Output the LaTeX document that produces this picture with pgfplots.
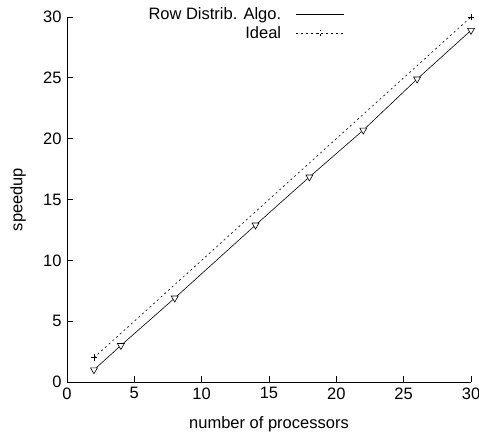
\documentclass[border=0pt]{standalone}
\usepackage{pgfplots}
\pgfplotsset{compat=1.18}
\usepackage{fontspec}
\setmainfont{Liberation Sans}
\begin{document}
\begin{tikzpicture}
\useasboundingbox (-67pt,-53pt) rectangle (412pt,382pt);
\begin{axis}[
  at={(0pt,0pt)}, anchor=origin,
  scale only axis, width=404pt, height=365pt,
  xmin=0, xmax=30, ymin=0, ymax=30,
  xtick={0,5,...,30}, ytick={0,5,...,30},
  axis lines*=left,
  tick align=inside,
  major tick length=6pt,
  axis line style={line width=0.8pt},
  tick style={line width=0.8pt, black},
  /pgf/number format/assume math mode=true,
  tick label style={font=\fontsize{16.5}{19}\selectfont},
  label style={font=\fontsize{16.5}{19}\selectfont},
  xticklabel style={yshift=-2pt},
  yticklabel style={xshift=-2pt},
  xlabel={number of processors},
  ylabel={speedup},
  xlabel style={at={(axis description cs:0.5,-0.115)}, anchor=center},
  ylabel style={at={(axis description cs:-0.121,0.5)}, anchor=center},
  legend style={draw=none, fill=none, at={(rel axis cs:0.688,1.03)}, anchor=north east,
    font=\fontsize{16.5}{19}\selectfont, row sep=3.5pt, inner sep=0pt,
    nodes={inner sep=1pt}},
  legend cell align=right,
  legend plot pos=right,
]
\addplot[black, line width=0.6pt, mark=triangle*, mark options={solid, fill=white, rotate=180, scale=2},
  legend image code/.code={\path (0pt,-4pt) (62pt,4pt); \draw[black, line width=0.6pt] (14pt,0pt) -- (62pt,0pt);}]
  coordinates {(2,1.0) (4,3.0) (8,6.9) (14,12.9) (18,16.85) (22,20.7) (26,24.9) (30,28.9)};
\addlegendentry{Row Distrib. Algo.}
\addplot[black, line width=0.6pt, dash pattern=on 2pt off 3pt, mark=+, mark options={solid, scale=1.6},
  legend image code/.code={\path (0pt,-4pt) (62pt,4pt); \draw[black, line width=0.6pt, dash pattern=on 2pt off 3pt] (14pt,0pt) -- (62pt,0pt);
    \draw[black, line width=0.6pt] (35pt,0pt) -- (41pt,0pt) (38pt,-3pt) -- (38pt,3pt);}]
  coordinates {(2,2) (30,30)};
\addlegendentry{Ideal}
\end{axis}
\end{tikzpicture}
\end{document}
